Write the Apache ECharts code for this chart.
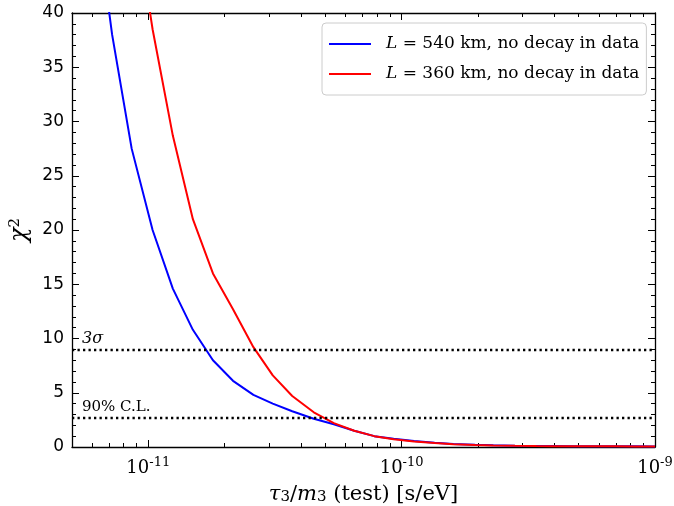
<!DOCTYPE html>
<html>
<head>
<meta charset="utf-8">
<script src="https://cdn.jsdelivr.net/npm/echarts@6/dist/echarts.min.js"></script>
<style>
  html, body { margin: 0; padding: 0; background: #fff; }
  #chart { width: 674px; height: 506px; }
</style>
</head>
<body>
<div id="chart"></div>
<script>
// tau3/m3 test values [s/eV]
var tauValues = [6.0e-12, 7.2e-12, 8.6e-12, 1.04e-11, 1.25e-11, 1.5e-11, 1.8e-11, 2.16e-11, 2.6e-11, 3.1e-11,
                 3.7e-11, 4.5e-11, 5.4e-11, 6.5e-11, 7.8e-11, 9.3e-11, 1.12e-10, 1.35e-10, 1.6e-10, 1.95e-10,
                 2.3e-10, 2.8e-10, 3.4e-10, 4.0e-10, 4.8e-10, 5.8e-10, 7.0e-10, 8.4e-10, 1.0e-9];
// chi2, L = 540 km
var chi540 = [52, 38, 27.5, 20.0, 14.6, 10.8, 8.0, 6.1, 4.8, 4.0,
              3.3, 2.6, 2.1, 1.5, 1.0, 0.75, 0.55, 0.4, 0.28, 0.2,
              0.15, 0.12, 0.1, 0.09, 0.08, 0.07, 0.06, 0.06, 0.05];
// chi2, L = 360 km
var chi360 = [80, 65, 51, 38.5, 28.7, 21.0, 16.0, 12.7, 9.2, 6.6,
              4.7, 3.2, 2.2, 1.5, 1.0, 0.72, 0.5, 0.36, 0.26, 0.18,
              0.14, 0.11, 0.09, 0.08, 0.07, 0.06, 0.06, 0.05, 0.05];
var seriesNames = ['L = 540 km, no decay in data', 'L = 360 km, no decay in data'];
var majorTicksX = [1e-11, 1e-10, 1e-9];
var minorTicksX = [6e-12, 7e-12, 8e-12, 9e-12,
                   2e-11, 3e-11, 4e-11, 5e-11, 6e-11, 7e-11, 8e-11, 9e-11,
                   2e-10, 3e-10, 4e-10, 5e-10, 6e-10, 7e-10, 8e-10, 9e-10];
var refLevels = [9, 2.71];

function pairs(xs, ys) {
    return xs.map(function (x, i) { return [x, ys[i]]; });
}

var chart = echarts.init(document.getElementById('chart'));
var serif = 'DejaVu Serif';

function xAxisDef(pos, ticks, len, main) {
    return {
        type: 'log', min: 5e-12, max: 1e-9, position: pos,
        axisLine: { show: main, lineStyle: { color: '#000', width: 1.3 } },
        axisTick: { show: true, inside: true, length: len, customValues: ticks,
                    lineStyle: { color: '#000', width: 1 } },
        axisLabel: {
            show: main && pos === 'bottom', customValues: majorTicksX, margin: 9,
            formatter: function (v) { return '{b|10}{s|' + Math.round(Math.log10(v)) + '}'; },
            rich: {
                b: { fontFamily: serif, fontSize: 18, color: '#000', lineHeight: 24 },
                s: { fontFamily: serif, fontSize: 13, color: '#000', verticalAlign: 'top', lineHeight: 13 }
            }
        },
        splitLine: { show: false },
        name: main && pos === 'bottom' ? '{i|τ}{sub|3}/{i|m}{sub|3} (test) [s/eV]' : '',
        nameLocation: 'middle', nameGap: 37,
        nameTextStyle: {
            fontFamily: serif, fontSize: 21, color: '#000',
            rich: {
                i: { fontFamily: serif, fontStyle: 'italic', fontSize: 21, color: '#000' },
                sub: { fontFamily: serif, fontSize: 15, color: '#000', verticalAlign: 'bottom', lineHeight: 14 }
            }
        }
    };
}

function yAxisDef(pos, labels) {
    return {
        type: 'value', min: 0, max: 40, interval: 5, position: pos,
        axisLine: { show: true, lineStyle: { color: '#000', width: 1.3 } },
        axisTick: { show: true, inside: true, length: 7, lineStyle: { color: '#000', width: 1 } },
        minorTick: { show: true, splitNumber: 5, length: 4, lineStyle: { color: '#000', width: 1 } },
        axisLabel: { show: labels, fontFamily: 'DejaVu Sans', fontSize: 17, color: '#000', margin: 8 },
        splitLine: { show: false },
        name: labels ? '{i|χ}{sup|2}' : '',
        nameLocation: 'middle', nameGap: 34, nameRotate: 90,
        nameTextStyle: {
            color: '#000',
            rich: {
                i: { fontFamily: serif, fontStyle: 'italic', fontSize: 24, color: '#000' },
                sup: { fontFamily: serif, fontSize: 15, color: '#000', verticalAlign: 'top', lineHeight: 15 }
            }
        }
    };
}

var option = {
    backgroundColor: '#fff',
    animation: false,
    grid: { left: 72, right: 19, top: 13, bottom: 59, outerBoundsMode: 'none', containLabel: false },
    legend: {
        orient: 'vertical', left: 322, top: 23,
        padding: [11, 7, 11, 7], itemGap: 10,
        icon: 'rect', itemWidth: 42, itemHeight: 2,
        backgroundColor: '#fff', borderColor: '#cccccc', borderWidth: 1, borderRadius: 4,
        data: seriesNames,
        formatter: function (n) { return '{i|L}' + n.slice(1); },
        textStyle: {
            fontFamily: serif, fontSize: 17, color: '#000', lineHeight: 20,
            rich: { i: { fontFamily: serif, fontStyle: 'italic', fontSize: 17, color: '#000', padding: [0, 0, 0, 10] } }
        }
    },
    xAxis: [
        xAxisDef('bottom', majorTicksX, 7, true),
        xAxisDef('bottom', minorTicksX, 4, false),
        xAxisDef('top', majorTicksX, 7, true),
        xAxisDef('top', minorTicksX, 4, false)
    ],
    yAxis: [yAxisDef('left', true), yAxisDef('right', false)],
    series: [
        {
            name: seriesNames[0], type: 'line', data: pairs(tauValues, chi540),
            symbol: 'none', clip: true,
            lineStyle: { color: '#0000ff', width: 2 }, itemStyle: { color: '#0000ff' },
            markLine: {
                silent: true, symbol: 'none',
                lineStyle: { color: '#000', width: 2.3, type: [2.3, 3.2] },
                data: [
                    { yAxis: refLevels[0], label: { formatter: '{g|3σ}' } },
                    { yAxis: refLevels[1], label: { formatter: '{n|90% C.L.}' } }
                ],
                label: {
                    position: 'insideStartTop', distance: [10, 3],
                    rich: {
                        n: { fontFamily: serif, fontSize: 15, color: '#000' },
                        g: { fontFamily: serif, fontStyle: 'italic', fontSize: 16, color: '#000' }
                    }
                }
            }
        },
        {
            name: seriesNames[1], type: 'line', data: pairs(tauValues, chi360),
            symbol: 'none', clip: true,
            lineStyle: { color: '#ff0000', width: 2 }, itemStyle: { color: '#ff0000' }
        }
    ]
};

chart.setOption(option);
window.addEventListener('resize', function () { chart.resize(); });
</script>
</body>
</html>
